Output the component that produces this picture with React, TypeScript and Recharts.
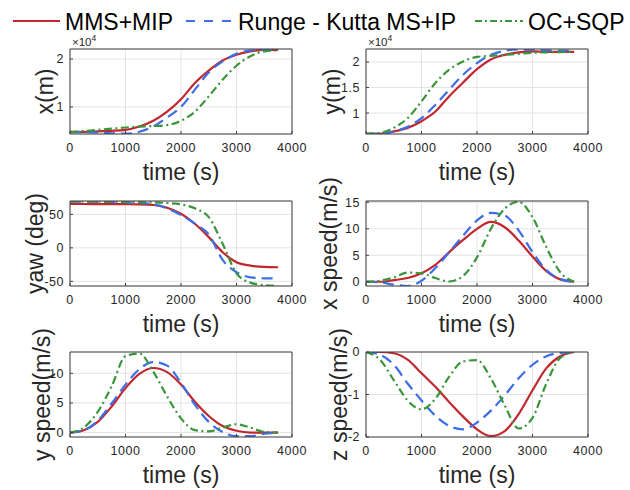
import { LineChart, Line, XAxis, YAxis, CartesianGrid, Label } from "recharts";

// shared time base (s)
const time = [0, 250, 500, 750, 1000, 1250, 1500, 1750, 2000, 2250, 2500, 2750, 3000, 3250, 3500, 3750];
const timeTicks = [0, 1000, 2000, 3000, 4000];

const seriesNames = ["MMS+MIP", "Runge - Kutta MS+IP", "OC+SQP"];
const seriesColors = ["#c1272d", "#3d6ee8", "#3a953a"];
const seriesDash = ["", "11 6", "8 3.5 2 3.5"];

// x position (m)
const xPosMms = [4800, 4800, 4900, 5000, 5200, 5900, 7100, 9000, 11600, 15000, 17600, 19700, 20900, 21600, 21900, 21900];
const xPosRk = [4750, 4750, 4650, 4500, 4400, 4800, 5900, 7800, 10000, 13600, 17200, 19500, 21100, 21800, 22000, 21950];
const xPosOc = [4750, 4950, 5200, 5450, 5700, 5900, 6000, 6200, 7100, 9000, 12200, 15700, 18600, 20600, 21600, 21800];

// y position (m)
const yPosMms = [5950, 5950, 6400, 7100, 8400, 10300, 13300, 16000, 18600, 20500, 21400, 21900, 22100, 22000, 22000, 22000];
const yPosRk = [5950, 5950, 6400, 7300, 9000, 11600, 14600, 17500, 19800, 21400, 22200, 22450, 22400, 22300, 22250, 22200];
const yPosOc = [5950, 6100, 7100, 9000, 12300, 15900, 18500, 20100, 21000, 21200, 21400, 21600, 21800, 21900, 21950, 22000];

// yaw (deg)
const yawMms = [65.5, 65.5, 65.4, 65.3, 65.2, 65, 64, 60, 51, 36, 16, -6.5, -21.5, -26.5, -28.5, -29];
const yawRk = [69, 69, 68.8, 68.5, 68, 67, 65, 59, 49, 36, 20, -18, -36.5, -44, -45.5, -45.7];
const yawOc = [69.5, 69.4, 69.2, 69, 68.5, 68.2, 68, 67, 65, 59, 46, 6, -38, -52, -55.8, -57];

// x speed (m/s)
const xSpdMms = [0, 0, 0.3, 0.7, 1.6, 3.2, 5.6, 7.9, 10, 11.3, 10.3, 7.8, 4.75, 2, 0.45, 0];
const xSpdRk = [0, -0.1, -0.55, -0.8, 0.2, 2.6, 5.6, 8.7, 11.6, 13, 12.5, 9.7, 5.6, 2.2, 0.5, 0];
const xSpdOc = [0, 0.2, 0.8, 1.75, 1.6, 0.7, 0.05, 1.1, 4.6, 10, 13.8, 15.1, 12.2, 6.5, 1.8, 0];

// y speed (m/s)
const ySpdMms = [0, 0.4, 1.8, 4.4, 7.5, 9.9, 10.9, 10.2, 8.1, 5.2, 2.8, 1.1, 0.3, 0, 0, 0];
const ySpdRk = [0, 0.4, 2, 4.9, 8.1, 10.7, 11.9, 11.3, 8.4, 4.7, 1.8, 0.1, -0.6, -0.6, -0.2, 0];
const ySpdOc = [0, 0.85, 3.5, 7.8, 12.9, 13.35, 10.3, 6.1, 2.4, 0.4, 0.2, 0.85, 1.4, 0.85, 0.1, 0];

// z speed (m/s)
const zSpdMms = [0, 0, -0.03, -0.18, -0.5, -0.82, -1.18, -1.52, -1.82, -1.98, -1.86, -1.46, -0.9, -0.38, -0.1, 0];
const zSpdRk = [0, -0.06, -0.3, -0.74, -1.14, -1.5, -1.74, -1.82, -1.66, -1.38, -1.02, -0.62, -0.3, -0.1, -0.02, 0];
const zSpdOc = [0, -0.18, -0.66, -1.14, -1.35, -1.1, -0.58, -0.22, -0.19, -0.62, -1.26, -1.8, -1.55, -0.74, -0.14, 0];

const FONT = "'Liberation Sans', Arial, Helvetica, sans-serif";
const AXIS = "#404040";
const TEXT = "#262626";

const panels = [
  { label: "x(m)", values: [xPosMms, xPosRk, xPosOc], domain: [4340, 22100], ticks: [10000, 20000], sci: true, labelDx: -25, left: 0, top: 9 },
  { label: "y(m)", values: [yPosMms, yPosRk, yPosOc], domain: [5900, 22550], ticks: [10000, 15000, 20000], sci: true, labelDx: -34, left: 296, top: 9 },
  { label: "yaw (deg)", values: [yawMms, yawRk, yawOc], domain: [-57, 70], ticks: [-50, 0, 50], sci: false, labelDx: -35, left: 0, top: 161 },
  { label: "x speed(m/s)", values: [xSpdMms, xSpdRk, xSpdOc], domain: [-0.8, 15.25], ticks: [0, 5, 10, 15], sci: false, labelDx: -37, left: 296, top: 161 },
  { label: "y speed(m/s)", values: [ySpdMms, ySpdRk, ySpdOc], domain: [-0.75, 13.6], ticks: [0, 5, 10], sci: false, labelDx: -28, left: 0, top: 312 },
  { label: "z speed(m/s)", values: [zSpdMms, zSpdRk, zSpdOc], domain: [-2, 0], ticks: [-2, -1, 0], sci: false, labelDx: -27, left: 296, top: 312 },
];

type PanelCfg = (typeof panels)[number];

function Panel({ cfg }: { cfg: PanelCfg }) {
  const data = time.map((t, i) => ({
    t,
    s0: cfg.values[0][i],
    s1: cfg.values[1][i],
    s2: cfg.values[2][i],
  }));

  const yLabel = (props: any) => {
    const vb = props.viewBox;
    const cx = vb.x + vb.width + cfg.labelDx;
    const cy = vb.y + vb.height / 2;
    return (
      <text
        x={cx}
        y={cy}
        transform={`rotate(-90 ${cx} ${cy})`}
        textAnchor="middle"
        dominantBaseline="central"
        fontSize={23}
        fill={TEXT}
        fontFamily={FONT}
      >
        {cfg.label}
      </text>
    );
  };

  const sciLabel = (props: any) => {
    const vb = props.viewBox;
    return (
      <text x={vb.x + 2} y={vb.y - 2} fontSize={11.5} fill={TEXT} fontFamily={FONT}>
        ×10
        <tspan dy={-5} fontSize={8.5}>
          4
        </tspan>
      </text>
    );
  };

  return (
    <div style={{ position: "absolute", left: cfg.left, top: cfg.top }}>
      <LineChart
        width={320}
        height={185}
        data={data}
        margin={{ top: 39, right: 27, bottom: 0, left: 0 }}
      >
        <CartesianGrid stroke="#e4e4e4" strokeWidth={1} />
        <XAxis
          dataKey="t"
          type="number"
          domain={[0, 4000]}
          ticks={timeTicks}
          interval={0}
          allowDataOverflow
          height={60}
          tickSize={-3}
          tickMargin={12}
          stroke={AXIS}
          tick={{ fill: TEXT, fontSize: 12.5, fontFamily: FONT, letterSpacing: 0.5 }}
        >
          <Label
            value="time (s)"
            position="insideBottom"
            offset={14}
            fontSize={23}
            fill={TEXT}
            fontFamily={FONT}
          />
        </XAxis>
        <XAxis
          xAxisId="top"
          orientation="top"
          dataKey="t"
          type="number"
          domain={[0, 4000]}
          ticks={timeTicks}
          interval={0}
          allowDataOverflow
          height={1}
          tick={false}
          tickSize={-3}
          stroke={AXIS}
        >
          {cfg.sci && <Label content={sciLabel} />}
        </XAxis>
        <YAxis
          type="number"
          domain={cfg.domain}
          ticks={cfg.ticks}
          interval={0}
          allowDataOverflow
          width={70}
          tickSize={-3}
          tickMargin={9}
          stroke={AXIS}
          tick={{ fill: TEXT, fontSize: 12.5, fontFamily: FONT, letterSpacing: 0.5 }}
          tickFormatter={(v: number) => (cfg.sci ? String(v / 10000) : String(v))}
        >
          <Label content={yLabel} />
        </YAxis>
        <YAxis
          yAxisId="r"
          orientation="right"
          type="number"
          domain={cfg.domain}
          ticks={cfg.ticks}
          interval={0}
          allowDataOverflow
          width={1}
          tick={false}
          tickSize={-3}
          stroke={AXIS}
        />
        {seriesNames.map((name, i) => (
          <Line
            key={name}
            dataKey={`s${i}`}
            name={name}
            type="monotone"
            stroke={seriesColors[i]}
            strokeWidth={2.2}
            strokeDasharray={seriesDash[i] || undefined}
            dot={false}
            isAnimationActive={false}
          />
        ))}
      </LineChart>
    </div>
  );
}

function TopLegend() {
  const items = [
    { x1: 13, x2: 60, tx: 65 },
    { x1: 186, x2: 233, tx: 238 },
    { x1: 475, x2: 523, tx: 528 },
  ];
  const legendDash = ["", "9 9", "7 3 2 3"];
  return (
    <svg width={630} height={40} style={{ position: "absolute", left: 0, top: 0 }}>
      {seriesNames.map((name, i) => (
        <g key={name}>
          <line
            x1={items[i].x1}
            x2={items[i].x2}
            y1={21}
            y2={21}
            stroke={seriesColors[i]}
            strokeWidth={2.2}
            strokeDasharray={legendDash[i] || undefined}
          />
          <text x={items[i].tx} y={29.5} fontSize={23} fill="#000" fontFamily={FONT} xmlSpace="preserve">
            {name}
          </text>
        </g>
      ))}
    </svg>
  );
}

export default function App() {
  return (
    <div
      style={{
        position: "absolute",
        left: 0,
        top: 0,
        width: 630,
        height: 490,
        overflow: "hidden",
        background: "#fff",
        fontFamily: FONT,
      }}
    >
      {panels.map((p) => (
        <Panel key={p.label} cfg={p} />
      ))}
      <TopLegend />
    </div>
  );
}
